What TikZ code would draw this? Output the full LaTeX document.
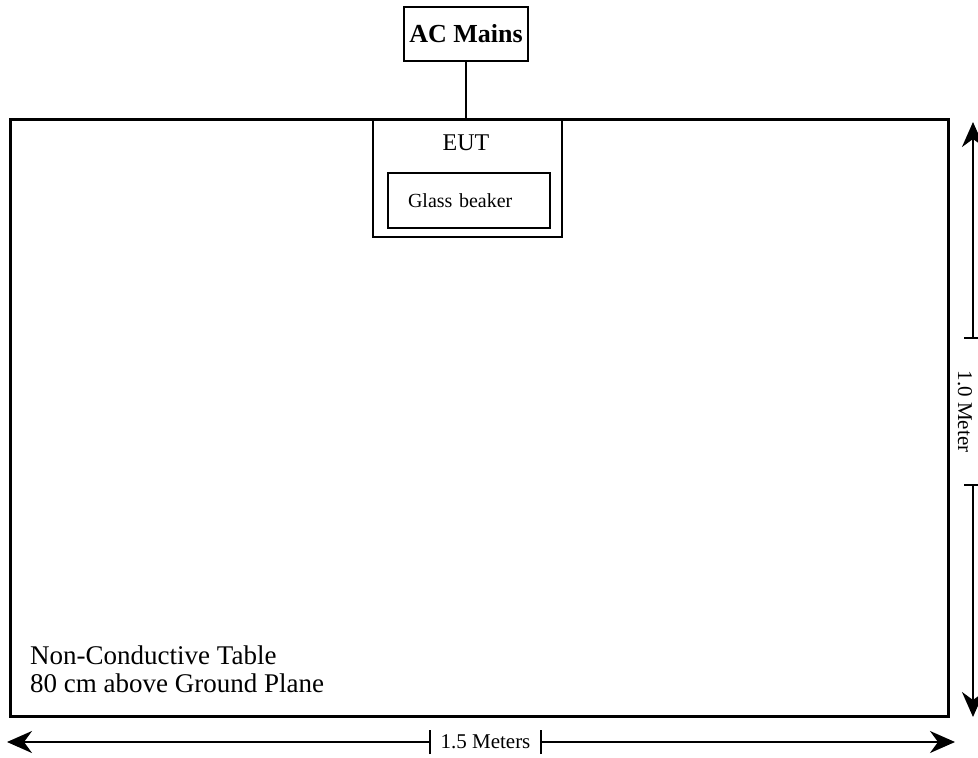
\documentclass[tikz,border=0pt]{standalone}
\usepackage{fontspec}
\setmainfont{Liberation Serif}
\usetikzlibrary{positioning,arrows.meta}

\begin{document}
\begin{tikzpicture}[
  x=1pt,y=-1pt,
  tablebox/.style={draw,line width=3pt,minimum width=938pt,minimum height=597pt,inner sep=0pt},
  box/.style={draw,line width=1.6pt,inner sep=0pt},
  big/.style={font=\fontsize{27}{28}\selectfont},
  dimlbl/.style={font=\fontsize{21}{24}\selectfont,inner sep=0pt},
  dimar/.style={-{Stealth[length=25pt,width=22pt,inset=8pt]},line width=2pt},
  tick/.style={line width=1.6pt},
]
\useasboundingbox (0,0) rectangle (978,758);

\node[tablebox] (tbl) at (479,418) {};
\node[box,minimum width=124pt,minimum height=54pt,font=\fontsize{26}{28}\selectfont] (mains) at (466,34) {\textbf{AC Mains}};
\node[box,minimum width=189pt,minimum height=118pt] (eut) at (467.5,178) {};
\node[font=\fontsize{24}{26}\selectfont] (euttxt) at (466,143) {EUT};
\node[box,text width=122pt,inner xsep=20pt,minimum height=55pt,align=left,
      font=\fontsize{20}{22}\selectfont] (beaker) at (469,200.5) {Glass beaker};
\node[big,anchor=west,align=left,inner sep=0pt] (note) at (30,669)
      {Non-Conductive Table\\80 cm above Ground Plane};

\draw[line width=1.6pt] (mains.south) -- (mains.south |- eut.north);

% width of the table
\coordinate (wl) at (7,742);
\coordinate (wr) at (955,742);
\node[dimlbl,minimum width=111pt] (wdim) at (485.5,742) {1.5 Meters};
\draw[tick] ([yshift=-12pt]wdim.west) -- ([yshift=12pt]wdim.west);
\draw[tick] ([yshift=-12pt]wdim.east) -- ([yshift=12pt]wdim.east);
\draw[dimar] (wdim.west) -- (wl);
\draw[dimar] (wdim.east) -- (wr);

% depth of the table
\coordinate (dt) at (973,122);
\coordinate (db) at (973,717);
\node[dimlbl,rotate=-90,minimum width=147pt] (ddim) at (965,411.5) {1.0 Meter};
\coordinate (dtop) at (ddim.west -| dt);
\coordinate (dbot) at (ddim.east -| db);
\draw[tick] ([xshift=-9pt]dtop) -- ([xshift=9pt]dtop);
\draw[tick] ([xshift=-9pt]dbot) -- ([xshift=9pt]dbot);
\draw[dimar] (dtop) -- (dt);
\draw[dimar] (dbot) -- (db);
\end{tikzpicture}
\end{document}
